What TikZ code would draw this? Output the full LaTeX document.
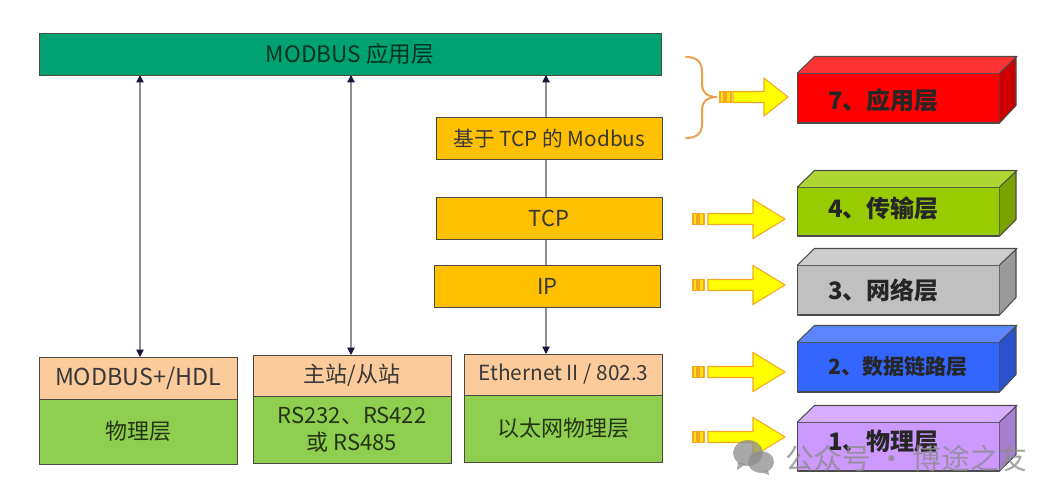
\documentclass[tikz,border=0pt]{standalone}
\usepackage{fontspec}
\setmainfont{Noto Sans CJK SC}
\usetikzlibrary{arrows.meta,backgrounds}
\definecolor{topgreen}{HTML}{00A272}
\definecolor{amberbox}{HTML}{FFC000}
\definecolor{peachbox}{HTML}{FBCB9B}
\definecolor{leafbox}{HTML}{8FCF50}
\definecolor{edgegrey}{HTML}{4A4A40}
\definecolor{linkgrey}{HTML}{8E8E98}
\definecolor{tipnavy}{HTML}{14143C}
\definecolor{braceorange}{HTML}{EDA050}
\definecolor{arroworange}{HTML}{F5A623}
\definecolor{arrowyellow}{HTML}{FFFF00}
\definecolor{redfront}{HTML}{FF0000}\definecolor{redtop}{HTML}{FF3333}\definecolor{redside}{HTML}{CC0000}
\definecolor{limefront}{HTML}{99CC00}\definecolor{limetop}{HTML}{ADD633}\definecolor{limeside}{HTML}{7AA300}
\definecolor{greyfront}{HTML}{C0C0C0}\definecolor{greytop}{HTML}{CDCDCD}\definecolor{greyside}{HTML}{9A9A9A}
\definecolor{bluefront}{HTML}{3366FF}\definecolor{bluetop}{HTML}{5C85FF}\definecolor{blueside}{HTML}{2A52CC}
\definecolor{lilacfront}{HTML}{CC99FF}\definecolor{lilactop}{HTML}{D6ADFF}\definecolor{lilacside}{HTML}{A67FD0}
\tikzset{
  flat/.style={draw=edgegrey,line width=0.75pt,inner sep=0pt,outer sep=0pt,text=black!78,font=\fontsize{16.5}{20.5}\selectfont,align=center},
  link/.style={draw=linkgrey,line width=0.8pt,{Triangle[color=tipnavy,length=5.5pt,width=5.5pt]}-{Triangle[color=tipnavy,length=5.5pt,width=5.5pt]}},
  boxedge/.style={draw=black!70,line width=0.8pt,line join=round},
  yarrowline/.style={draw=arroworange,line width=0.8pt,fill=arrowyellow},
  ybar/.style={draw=arroworange,line width=0.8pt,fill=arrowyellow!70!arroworange},
  layerlabel/.style={anchor=west,inner sep=0pt,text=black!85,font=\bfseries\fontsize{18}{20}\selectfont},
  mark grey/.style={fill=black!45,opacity=0.75,draw=none},
}
% x0 bar start, x1 body start, x2 head base, x3 tip, y centre, h head half height
\newcommand{\yarr}[6]{%
  \draw[yarrowline] (#2,#5-5.5) -- (#3,#5-5.5) -- (#3,#5-#6) -- (#4,#5) -- (#3,#5+#6) -- (#3,#5+5.5) -- (#2,#5+5.5) -- cycle;
  \path[ybar] (#1,#5-5.5) rectangle (#1+4,#5+5.5);
  \path[ybar] (#1+6,#5-5.5) rectangle (#1+11,#5+5.5);
}
% name, front top y, front bottom y, colour stem, label y, label
\newcommand{\layerbox}[6]{%
  \node[boxedge,fill=#4front,minimum width=151.5pt,minimum height=(#3-#2)*0.75pt,inner sep=0pt,outer sep=0pt] (#1) at (898.5,{(#2+#3)/2}) {};
  \fill[#4top] (#1.north west) -- ++(17,-16.5) -- ++(202,0) -- (#1.north east) -- cycle;
  \fill[#4side] (#1.north east) -- ++(16.5,-16.5) -- ++(0,49) -- (#1.south east) -- cycle;
  \draw[boxedge] (#1.north west) -- ++(17,-16.5) -- ++(202.5,0) -- (#1.north east)
     (#1.north east) ++(16.5,-16.5) -- ++(0,49) -- (#1.south east);
  \node[layerlabel] (#1-label) at (828,#5) {#6};
}
\begin{document}
\begin{tikzpicture}[x=0.75pt,y=-0.75pt]
\useasboundingbox (0,0) rectangle (1063,500);
% main stack
\node[flat,fill=topgreen,text=black!70!topgreen,minimum width=466.5pt,minimum height=31.5pt,font=\fontsize{17}{20}\selectfont] (app) at (350,54) {MODBUS 应用层};
\node[flat,fill=amberbox,minimum width=170pt,minimum height=31pt,font=\fontsize{15.5}{19}\selectfont] (tcpmod) at (549.5,138.5) {基于 TCP 的 Modbus};
\node[flat,fill=amberbox,minimum width=169.5pt,minimum height=31pt] (tcp) at (549,218.5) {TCP};
\node[flat,fill=amberbox,minimum width=170pt,minimum height=31pt] (ip) at (547.5,286.5) {IP};
% column 1
\node[flat,fill=peachbox,minimum width=148.5pt,minimum height=31.5pt,font=\fontsize{17.5}{20}\selectfont] (hdl) at (138,378) {MODBUS+/HDL};
\node[flat,fill=leafbox,text=black!75!leafbox,minimum width=148.5pt,minimum height=48.75pt] (phy1) at (138,431.5) {物理层};
% column 2
\node[flat,fill=peachbox,minimum width=148.5pt,minimum height=30.75pt] (master) at (352,375.5) {主站/从站};
\node[flat,fill=leafbox,text=black!75!leafbox,minimum width=148.5pt,minimum height=50.25pt] (phy2) at (352,429.5) {RS232、RS422\\或 RS485};
% column 3
\node[flat,fill=peachbox,minimum width=148.5pt,minimum height=30.75pt,font=\fontsize{15.6}{18}\selectfont] (eth) at (563.5,374.5) {Ethernet II / 802.3};
\node[flat,fill=leafbox,text=black!75!leafbox,minimum width=148.5pt,minimum height=50.25pt] (phy3) at (563.5,428.5) {以太网物理层};
% connectors
\begin{scope}[on background layer]
  \draw[link] (app.south -| hdl.north) ++(2,0) coordinate (a1) -- (a1 |- hdl.north);
  \draw[link] (app.south -| master.north) ++(-1,0) coordinate (a2) -- (a2 |- master.north);
  \coordinate (a3) at (546,75);
  \draw[link] (a3) -- (a3 |- eth.north);
\end{scope}
% brace
\coordinate (braceA) at (686,57);
\coordinate (braceB) at (686,138);
\coordinate (braceTip) at (717,97);
\draw[braceorange,line width=1.5pt,line cap=round] (braceA) .. controls (697,57) and (702,62) .. (702,72) -- (702,85) .. controls (702,92) and (707,97) .. (braceTip) .. controls (707,97) and (702,102) .. (702,109) -- (702,124) .. controls (702,133) and (697,138) .. (braceB);
% yellow arrows
\yarr{720}{733}{764}{788}{97}{19}
\yarr{693}{708}{753}{785}{219}{19.5}
\yarr{693}{708}{753}{785}{285}{19.5}
\yarr{693}{708}{753}{785}{372}{19.5}
\yarr{693}{708}{753}{785}{437}{19.5}
% OSI layers
\layerbox{l7}{73}{123}{red}{100}{7、应用层}
\layerbox{l4}{187}{236}{lime}{208}{4、传输层}
\layerbox{l3}{265}{315}{grey}{290}{3、网络层}
\layerbox{l2}{342}{392}{blue}{367}{\fontsize{15.8}{20}\selectfont 2、数据链路层}
\layerbox{l1}{422}{471}{lilac}{442}{1、物理层}
% watermark
\fill[mark grey] (748,453) ellipse (15 and 13);
\fill[mark grey] (738,462) -- (737,470) -- (746,464) -- cycle;
\fill[mark grey] (761,462) ellipse (13 and 11);
\fill[mark grey] (768,470) -- (769,475) -- (762,472) -- cycle;
\node[inner sep=0pt,anchor=west,text=black!45,opacity=0.8,font=\fontsize{21.5}{24}\selectfont] (mark) at (785,458) {公众号 · 博途之友};
\end{tikzpicture}
\end{document}
